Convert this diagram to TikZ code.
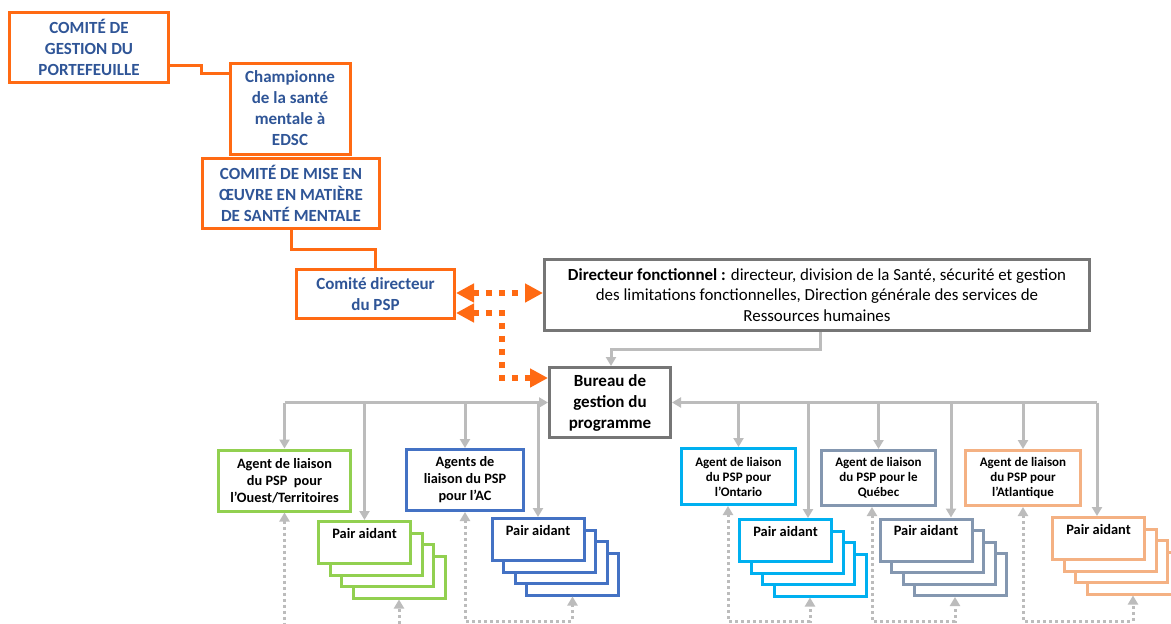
\documentclass[tikz,border=0pt]{standalone}
\usepackage{fontspec}
\setmainfont{Carlito}
\usetikzlibrary{arrows.meta,calc}

\definecolor{orng}{RGB}{255,106,19}
\definecolor{dblue}{RGB}{47,85,151}
\definecolor{boxgray}{RGB}{118,118,118}
\definecolor{lgray}{RGB}{188,188,188}
\definecolor{cgreen}{RGB}{146,208,80}
\definecolor{cblue}{RGB}{68,114,196}
\definecolor{cont}{RGB}{0,176,240}
\definecolor{cqc}{RGB}{132,151,176}
\definecolor{catl}{RGB}{244,177,131}

\newcommand\mkpairs[4]{%
  \foreach \k in {3,2,1}{%
    \node[pbox, draw=#4] (#1\k) at ({#2+11.5*\k},{#3+11.5*\k}) {};
  }
  \node[pbox, draw=#4] (#1) at (#2,#3) {};
  \node[ptext] (#1t) at ([yshift=-8pt]#1.north) {Pair aidant};
}

\begin{document}
\begin{tikzpicture}[x=1pt,y=-1pt,
  obox/.style={draw=orng, line width=3pt, fill=white, align=center, inner sep=0pt, text=dblue, font=\fontsize{17}{21}\selectfont\bfseries},
  gbox/.style={draw=boxgray, line width=3pt, fill=white, align=center, inner sep=0pt},
  abox/.style={line width=3pt, fill=white, align=center, inner sep=0pt, font=\fontsize{14.3}{17}\selectfont\bfseries},
  sbox/.style={abox, font=\fontsize{13}{15}\selectfont\bfseries},
  pbox/.style={line width=3pt, fill=white, inner sep=0pt, minimum width=92pt, minimum height=42pt},
  ptext/.style={anchor=north, inner sep=0pt, font=\fontsize{14.4}{17}\selectfont\bfseries},
  oline/.style={draw=orng, line width=3pt},
  odot/.style={draw=orng, line width=6pt, dash pattern=on 6pt off 7pt, {Triangle[length=18pt,width=18pt]}-{Triangle[length=18pt,width=18pt]}},
  gline/.style={draw=lgray, line width=3pt},
  garrow/.style={gline, -{Triangle[length=9pt,width=10pt]}},
  gdot/.style={draw=lgray, line width=3pt, dash pattern=on 3pt off 3pt, {Triangle[length=9pt,width=10pt]}-{Triangle[length=9pt,width=10pt]}},
]
\useasboundingbox (0,0) rectangle (1171,624);
\fill[white] (0,0) rectangle (1171,624);
\clip (0,0) rectangle (1171,624);

% orange hierarchy
\node[obox, minimum width=159pt, minimum height=70pt] (cgp) at (89,47.5) {COMITÉ DE\\GESTION DU\\PORTEFEUILLE};
\node[obox, minimum width=120pt, minimum height=91pt] (champ) at (290,108.5) {Championne\\de la santé\\mentale à\\EDSC};
\node[obox, minimum width=177pt, minimum height=70pt] (mise) at (291,193.5) {COMITÉ DE MISE EN\\ŒUVRE EN MATIÈRE\\DE SANTÉ MENTALE};
\node[obox, minimum width=158pt, minimum height=49pt] (cdir) at (375.5,294) {Comité directeur\\du PSP};

\draw[oline] (cgp.east |- 0,65) -- (201,65) -- (201,73) -- (champ.west |- 0,73);
\draw[oline] (mise.south) |- (cdir.north |- 0,249) -- (cdir.north);

% gray boxes
\node[gbox, minimum width=545pt, minimum height=71pt, font=\fontsize{16.9}{20.5}\selectfont] (dirf) at (817,295) {\textbf{Directeur fonctionnel :} directeur, division de la Santé, sécurité et gestion\\des limitations fonctionnelles, Direction générale des services de\\Ressources humaines};
\node[gbox, minimum width=121pt, minimum height=70pt, font=\fontsize{17}{21}\selectfont\bfseries] (bureau) at (610,402.5) {Bureau de\\gestion du\\programme};

\draw[odot] (cdir.east |- 0,293) -- (dirf.west |- 0,293);
\draw[odot] (cdir.east |- 0,313) -| (502,378) -- (bureau.west |- 0,378);

\draw[garrow] (dirf.south -| 820,0) |- (611,349) -- (bureau.north -| 611,0);

% agents
\node[abox, draw=cgreen, minimum width=132pt, minimum height=61pt] (aouest) at (284.5,480.5) {Agent de liaison\\du PSP~ pour\\l’Ouest/Territoires};
\node[abox, draw=cblue, minimum width=117pt, minimum height=61pt] (aac) at (465,480) {Agents de\\liaison du PSP\\pour l’AC};
\node[sbox, draw=cont, minimum width=114pt, minimum height=56pt] (aont) at (738.5,476.5) {Agent de liaison\\du PSP pour\\l’Ontario};
\node[sbox, draw=cqc, minimum width=114pt, minimum height=55pt] (aqc) at (878.5,478) {Agent de liaison\\du PSP pour le\\Québec};
\node[sbox, draw=catl, minimum width=115pt, minimum height=55pt] (aatl) at (1023,478) {Agent de liaison\\du PSP pour\\l’Atlantique};

% peer helpers
\mkpairs{pO}{364.5}{542.5}{cgreen}
\mkpairs{pA}{538}{539.5}{cblue}
\mkpairs{pN}{785.5}{540.5}{cont}
\mkpairs{pQ}{926}{540}{cqc}
\mkpairs{pT}{1098.5}{538.5}{catl}

% bus
\draw[garrow] (aouest.north |- bureau.west) -- (bureau.west);
\draw[garrow] (bureau.east -| 1097,0) -- (bureau.east);
\draw[garrow] (aouest.north |- bureau.west) -- (aouest.north);
\draw[garrow] (pO.north |- bureau.west) -- (pO.north);
\draw[garrow] (aac.north |- bureau.west) -- (aac.north);
\draw[garrow] (pA.north |- bureau.west) -- (pA.north);
\draw[garrow] (aont.north |- bureau.east) -- (aont.north);
\draw[garrow] (bureau.east -| 808,0) -- (pN.north -| 808,0);
\draw[garrow] (aqc.north |- bureau.east) -- (aqc.north);
\draw[garrow] (bureau.east -| 951,0) -- (pQ.north -| 951,0);
\draw[garrow] (aatl.north |- bureau.east) -- (aatl.north);
\draw[garrow] (bureau.east -| 1097,0) -- (pT.north -| 1097,0);

% dotted feedback
\draw[gdot] (aouest.south) -- (aouest.south |- 0,635) -| (pO3.south);
\draw[gdot] (aac.south) -- (aac.south |- 0,621) -| (pA3.south);
\draw[gdot] (aont.south -| 728,0) -- (728,621) -| (pN3.south -| 810,0);
\draw[gdot] (aqc.south -| 872,0) -- (872,621) -| (pQ3.south -| 955,0);
\draw[gdot] (aatl.south) -- (aatl.south |- 0,621) -| (pT3.south);
\end{tikzpicture}
\end{document}
